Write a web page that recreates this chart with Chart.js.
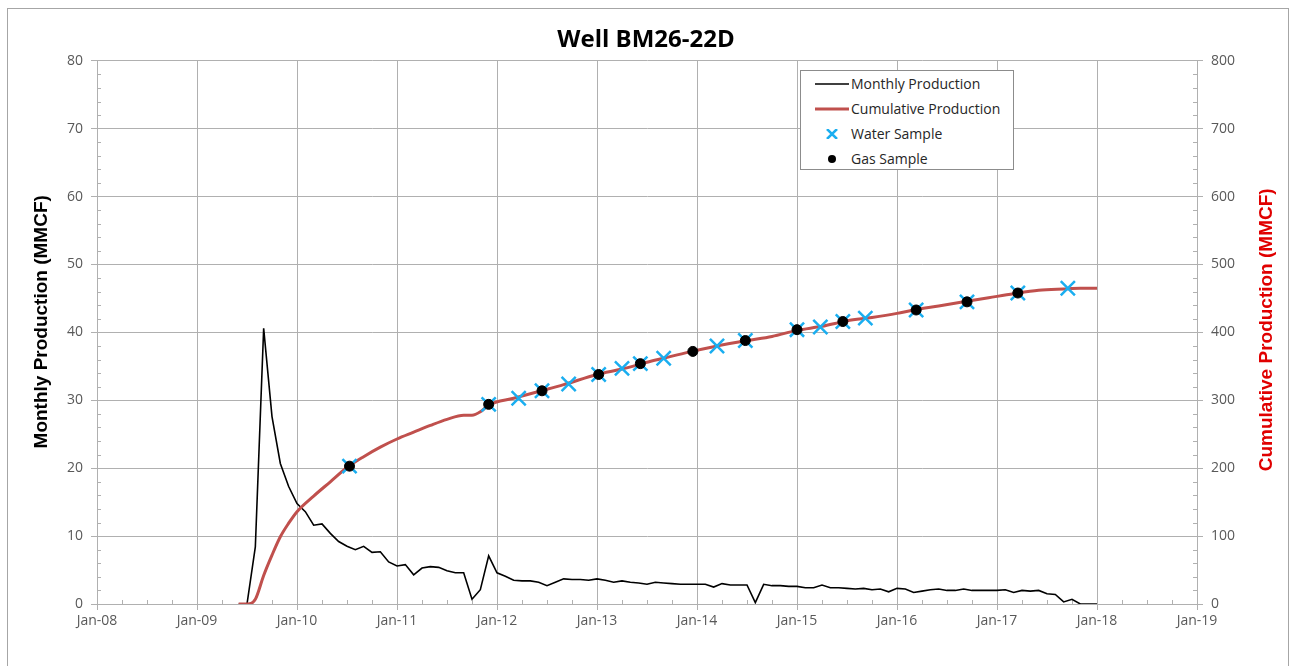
<!DOCTYPE html>
<html lang="en">
<head>
    <meta charset="UTF-8">
    <title>Well BM26-22D</title>

    <!-- Load Chart.js -->
    <script src="https://cdn.jsdelivr.net/npm/chart.js"></script>

    <style>
        html, body { margin: 0; padding: 0; background: #fff; overflow: hidden; }
        #wrap { position: relative; width: 1292px; height: 666px; }
        #frame {
            position: absolute; left: 7px; top: 8px;
            width: 1280px; height: 700px;
            border: 1px solid #a6a6a6;
        }
        #chart { position: absolute; left: 0; top: 0; }
        #legend {
            position: absolute; left: 800px; top: 70px;
            width: 212px; height: 98px;
            border: 1px solid #8c8c8c;
            background: #fff;
            font-family: 'Open Sans', sans-serif;
            font-size: 14px;
            color: #262626;
        }
        .legend-item { display: flex; align-items: center; height: 25px; padding-left: 14px; }
        .legend-item svg { margin-right: 2px; }
    </style>
</head>
<body>
    <div id="wrap">
        <div id="frame"></div>
        <canvas id="chart" width="1292" height="666"></canvas>
        <div id="legend"></div>
    </div>

    <script>
        // x values are months counted from Jan-08
        var yearLabels = ["Jan-08", "Jan-09", "Jan-10", "Jan-11", "Jan-12", "Jan-13",
                          "Jan-14", "Jan-15", "Jan-16", "Jan-17", "Jan-18", "Jan-19"];

        // Monthly production (MMCF), one value per month starting Jun-09
        var firstMonth = 17;
        var monthlyProd = [
            0, 0, 8.4, 40.6, 27.6, 20.7, 17.3,                         // Jun-09 .. Dec-09
            14.8, 13.6, 11.6, 11.8, 10.4, 9.2, 8.5, 8.0, 8.5, 7.6, 7.7, 6.2, // 2010
            5.6, 5.8, 4.3, 5.3, 5.5, 5.4, 4.9, 4.6, 4.6, 0.7, 2.1, 7.1,      // 2011
            4.6, 4.1, 3.5, 3.4, 3.4, 3.2, 2.7, 3.2, 3.7, 3.6, 3.6, 3.5,      // 2012
            3.7, 3.5, 3.2, 3.4, 3.2, 3.1, 2.9, 3.2, 3.1, 3.0, 2.9, 2.9,      // 2013
            2.9, 2.9, 2.5, 3.0, 2.8, 2.8, 2.8, 0.2, 2.9, 2.7, 2.7, 2.6,      // 2014
            2.6, 2.4, 2.4, 2.8, 2.4, 2.4, 2.3, 2.2, 2.3, 2.1, 2.2, 1.8,      // 2015
            2.3, 2.2, 1.7, 1.9, 2.1, 2.2, 2.0, 2.0, 2.2, 2.0, 2.0, 2.0,      // 2016
            2.0, 2.1, 1.7, 2.0, 1.9, 2.0, 1.5, 1.4, 0.3, 0.7, 0, 0,          // 2017
            0                                                               // Jan-18
        ];

        // Cumulative production (MMCF)
        var cumMonths = [17, 18, 19, 20, 21, 22, 23, 24, 26, 28, 30, 32, 34, 36, 38, 40, 42, 44, 45, 46,
                         47, 50, 53, 56, 60, 63, 66, 68, 71, 74, 78, 81, 84, 87, 90, 93, 96, 98, 101,
                         104, 107, 110, 113, 116, 118, 120];
        var cumProd = [0, 0, 7, 42, 72, 99, 119, 136, 159, 180, 201, 217, 231, 243, 253, 263, 272, 278, 278, 283,
                       293, 303, 313, 323, 338, 346, 356, 362, 371, 379, 388, 394, 403, 409, 417, 422, 428, 433, 439,
                       445, 451, 457, 462, 464, 465, 465];

        // Sample dates (months from Jan-08) and where they sit on the cumulative curve
        var waterMonths = [30.3, 47, 50.6, 53.4, 56.6, 60.2, 63, 65.2, 68, 74.4, 77.8, 84, 86.8, 89.5, 92.2,
                           98.3, 104.4, 110.5, 116.5];
        var waterCum = [203, 294, 303, 314, 324, 338, 347, 354, 362, 380, 388, 404, 408, 416, 421,
                        433, 445, 458, 465];
        var gasMonths = [30.3, 47, 53.4, 60.2, 65.2, 71.5, 77.8, 84, 89.5, 98.3, 104.4, 110.5];
        var gasCum = [203, 294, 314, 338, 354, 372, 388, 404, 416, 433, 445, 458];

        var gridColor = "#b0b0b0";
        var tickColor = "#595959";
        var tickFont = { family: "'Open Sans', sans-serif", size: 14 };

        function pairs(xs, ys) {
            return xs.map(function (x, i) { return { x: x, y: ys[i] }; });
        }

        // small inward tick marks between the labelled ones
        var minorTicks = {
            id: 'minorTicks',
            beforeDatasetsDraw: function (chart) {
                var ctx = chart.ctx, a = chart.chartArea, s = chart.scales;
                ctx.save();
                ctx.strokeStyle = gridColor;
                ctx.lineWidth = 1;
                ctx.beginPath();
                for (var m = 3; m < 132; m += 3) {
                    if (m % 12 === 0) continue;
                    var x = Math.round(s.x.getPixelForValue(m)) + 0.5;
                    ctx.moveTo(x, a.bottom); ctx.lineTo(x, a.bottom - 4);
                }
                for (var v = 2; v < 80; v += 2) {
                    if (v % 10 === 0) continue;
                    var y = Math.round(s.y.getPixelForValue(v)) + 0.5;
                    ctx.moveTo(a.left, y); ctx.lineTo(a.left + 4, y);
                }
                for (var w = 20; w < 800; w += 20) {
                    if (w % 100 === 0) continue;
                    var y2 = Math.round(s.y2.getPixelForValue(w)) + 0.5;
                    ctx.moveTo(a.right, y2); ctx.lineTo(a.right - 4, y2);
                }
                ctx.stroke();
                ctx.restore();
            }
        };

        // both axis titles read bottom-to-top, as in the original
        var axisTitles = {
            id: 'axisTitles',
            afterDraw: function (chart) {
                var ctx = chart.ctx, a = chart.chartArea;
                function vtext(text, x, y, color) {
                    ctx.save();
                    ctx.translate(x, y);
                    ctx.rotate(-Math.PI / 2);
                    ctx.fillStyle = color;
                    ctx.fillText(text, 0, 0);
                    ctx.restore();
                }
                ctx.save();
                ctx.font = "bold 19px 'Liberation Sans', Arial, sans-serif";
                ctx.textAlign = 'center';
                ctx.textBaseline = 'middle';
                vtext("Monthly Production (MMCF)", a.left - 55, a.top + 261, "#000");
                vtext("Cumulative Production (MMCF)", a.right + 70, a.top + 269, "#e00000");
                ctx.restore();
            }
        };

        var ctx = document.getElementById('chart').getContext('2d');
        var chart = new Chart(ctx, {
            type: 'line',
            data: {
                datasets: [
                    {
                        label: "Monthly Production",
                        data: monthlyProd.map(function (v, i) { return { x: firstMonth + i, y: v }; }),
                        borderColor: "#000",
                        borderWidth: 1.6,
                        pointRadius: 0,
                        yAxisID: 'y',
                        order: 4
                    },
                    {
                        label: "Cumulative Production",
                        data: pairs(cumMonths, cumProd),
                        borderColor: "#c0504d",
                        borderWidth: 3,
                        pointRadius: 0,
                        cubicInterpolationMode: 'monotone',
                        yAxisID: 'y2',
                        order: 3
                    },
                    {
                        label: "Water Sample",
                        data: pairs(waterMonths, waterCum),
                        showLine: false,
                        pointStyle: 'crossRot',
                        pointRadius: 10,
                        pointBorderWidth: 2.5,
                        borderColor: "#1aaef0",
                        backgroundColor: "#1aaef0",
                        yAxisID: 'y2',
                        order: 2
                    },
                    {
                        label: "Gas Sample",
                        data: pairs(gasMonths, gasCum),
                        showLine: false,
                        pointStyle: 'circle',
                        pointRadius: 5,
                        borderColor: "#000",
                        backgroundColor: "#000",
                        yAxisID: 'y2',
                        order: 1
                    }
                ]
            },
            options: {
                responsive: false,
                animation: false,
                layout: { padding: 0 },
                plugins: {
                    legend: { display: false },
                    tooltip: { enabled: false },
                    title: {
                        display: true,
                        text: "Well BM26-22D",
                        color: "#000",
                        font: { family: "'Open Sans', sans-serif", size: 24, weight: 'bold' },
                        padding: { top: 26, bottom: 6 }
                    }
                },
                scales: {
                    x: {
                        type: 'linear',
                        min: 0,
                        max: 132,
                        ticks: {
                            stepSize: 12,
                            autoSkip: false,
                            maxRotation: 0,
                            padding: 3,
                            color: tickColor,
                            font: tickFont,
                            callback: function (v) { return yearLabels[v / 12]; }
                        },
                        grid: { color: gridColor, tickLength: 6 },
                        border: { color: gridColor },
                        afterFit: function (s) { s.height = 62; }
                    },
                    y: {
                        position: 'left',
                        min: 0,
                        max: 80,
                        ticks: { stepSize: 10, padding: 8, color: tickColor, font: tickFont },
                        grid: { color: gridColor, tickLength: 6 },
                        border: { color: gridColor },
                        afterFit: function (s) { s.width = 97; }
                    },
                    y2: {
                        position: 'right',
                        min: 0,
                        max: 800,
                        ticks: { stepSize: 100, padding: 8, color: tickColor, font: tickFont },
                        grid: { drawOnChartArea: false, color: gridColor, tickLength: 6 },
                        border: { color: gridColor },
                        afterFit: function (s) { s.width = 95; }
                    }
                }
            },
            plugins: [minorTicks, axisTitles]
        });

        // Legend box drawn as HTML from the datasets
        var legend = document.getElementById('legend');
        chart.data.datasets.forEach(function (ds) {
            var sample;
            if (ds.pointStyle === 'crossRot') {
                sample = '<path d="M12,0 L22,10 M22,0 L12,10" stroke="' + ds.borderColor + '" stroke-width="2.5"/>';
            } else if (ds.pointStyle === 'circle') {
                sample = '<circle cx="17" cy="5" r="4" fill="' + ds.backgroundColor + '"/>';
            } else {
                sample = '<line x1="0" y1="5" x2="34" y2="5" stroke="' + ds.borderColor + '" stroke-width="' + ds.borderWidth + '"/>';
            }
            var row = document.createElement('div');
            row.className = 'legend-item';
            row.innerHTML = '<svg width="34" height="10">' + sample + '</svg><span>' + ds.label + '</span>';
            legend.appendChild(row);
        });
    </script>
</body>
</html>
